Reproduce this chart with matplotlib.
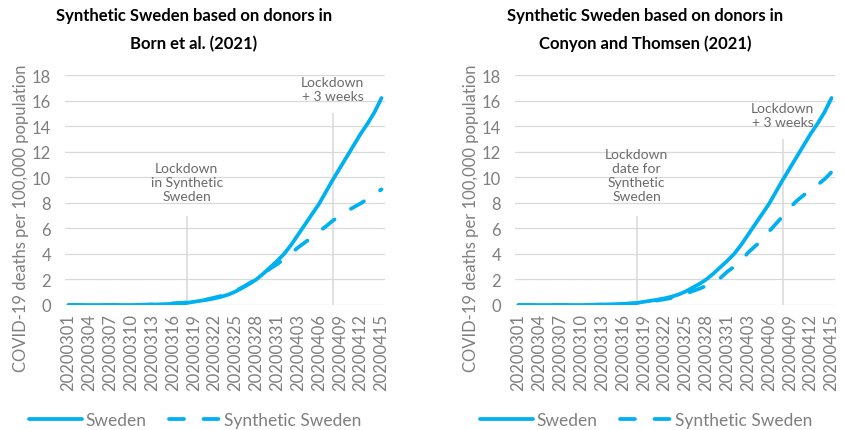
import matplotlib
matplotlib.use("Agg")
import matplotlib.pyplot as plt
from matplotlib.lines import Line2D
import datetime as dt

plt.rcParams['font.family'] = ['Lato', 'DejaVu Sans']

# ---------------- data ----------------
start = dt.date(2020, 3, 1)
dates = [(start + dt.timedelta(days=i)).strftime('%Y%m%d') for i in range(46)]

sweden = [0, 0, 0, 0, 0, 0, 0, 0, 0, 0, 0.01,
          0.02, 0.03, 0.05, 0.07, 0.09, 0.12, 0.16, 0.25, 0.33, 0.42,
          0.52, 0.65, 0.82, 1.05, 1.35, 1.65, 2.0, 2.45, 2.95, 3.45,
          4.0, 4.7, 5.5, 6.3, 7.1, 7.9, 8.85, 9.8, 10.7, 11.6,
          12.5, 13.4, 14.2, 15.1, 16.2]

synth_born = [0, 0, 0, 0, 0, 0, 0, 0, 0, 0.01, 0.01,
              0.02, 0.04, 0.07, 0.10, 0.13, 0.16, 0.20, 0.24, 0.33, 0.45,
              0.58, 0.72, 0.90, 1.12, 1.38, 1.70, 2.05, 2.45, 2.85, 3.2,
              3.6, 4.05, 4.5, 4.9, 5.3, 5.75, 6.15, 6.6, 7.0, 7.35,
              7.65, 7.95, 8.3, 8.65, 9.05]

synth_conyon = [0, 0, 0, 0, 0, 0, 0, 0, 0, 0.01, 0.01,
                0.02, 0.03, 0.04, 0.05, 0.07, 0.10, 0.13, 0.20, 0.28, 0.36,
                0.45, 0.55, 0.70, 0.88, 1.08, 1.28, 1.50, 1.72, 2.1, 2.6,
                3.0, 3.45, 4.1, 4.6, 5.05, 5.75, 6.35, 6.95, 7.6, 8.15,
                8.6, 9.0, 9.4, 9.85, 10.4]

lockdown_date = '20200318'
lockdown_3w_date = '20200408'
left_marker_heights = [7, 15]
right_marker_heights = [7, 13]

titles = ["Synthetic Sweden based on donors in\nBorn et al. (2021)",
          "Synthetic Sweden based on donors in\nConyon and Thomsen (2021)"]
left_notes = ["Lockdown\nin Synthetic\nSweden", "Lockdown\n+ 3 weeks"]
right_notes = ["Lockdown\ndate for\nSynthetic\nSweden", "Lockdown\n+ 3 weeks"]
ylabel = "COVID-19 deaths per 100,000 population"

# ---------------- style ----------------
BLUE = '#00b0f0'
GRID = '#d9d9d9'
TXT = '#7f7f7f'
NOTE = '#6a6a6a'
DASH = (0, (4.0, 5.2))

fig = plt.figure(figsize=(8.45, 4.31), dpi=100)

axes_pos = [[65/845, 1-306/431, 320/845, 230/431],
            [515/845, 1-306/431, 320/845, 230/431]]
title_x = [194/845, 645/845]
legend_x = [24/845, 475/845]

x = list(range(len(dates)))
i_lock = dates.index(lockdown_date)
i_3w = dates.index(lockdown_3w_date)

configs = [
    (synth_born, left_marker_heights, left_notes, [9.6, 16.9]),
    (synth_conyon, right_marker_heights, right_notes, [10.2, 14.85]),
]

for k, (synth, mh, notes, note_y) in enumerate(configs):
    ax = fig.add_axes(axes_pos[k])
    ax.set_xlim(-0.5, len(dates) - 0.5)
    ax.set_ylim(0, 18)
    ax.set_yticks(range(0, 19, 2))
    ax.yaxis.grid(True, color=GRID, linewidth=0.9)
    ax.set_axisbelow(True)
    for s in ax.spines.values():
        s.set_visible(False)
    ax.tick_params(axis='both', length=0, colors=TXT, labelsize=12)
    ax.tick_params(axis='y', pad=10)
    ax.tick_params(axis='x', pad=6)
    ax.set_xticks(x[::3])
    ax.set_xticklabels(dates[::3], rotation=90)

    ax.vlines([i_lock, i_3w], 0, mh, color=GRID, linewidth=1.1, zorder=1)

    ax.plot(x, sweden, color=BLUE, linewidth=2.7, solid_capstyle='round',
            solid_joinstyle='round', zorder=3)
    ax.plot(x, synth, color=BLUE, linewidth=2.7, linestyle=DASH,
            dash_capstyle='round', zorder=3)

    ax.text(i_lock, note_y[0], notes[0], ha='center', va='center',
            fontsize=10, color=NOTE, linespacing=1.2)
    ax.text(i_3w, note_y[1], notes[1], ha='center', va='center',
            fontsize=10, color=NOTE, linespacing=1.2)

    ax.set_ylabel(ylabel, color=TXT, fontsize=12, labelpad=5)
    ax.yaxis.set_label_coords(-0.111, 0.383)

    fig.text(title_x[k], 1 - 30/431, titles[k], ha='center', va='center',
             fontsize=12, fontweight='bold', color='black', linespacing=1.85)

    handles = [Line2D([], [], color=BLUE, linewidth=2.7, solid_capstyle='round'),
               Line2D([], [], color=BLUE, linewidth=2.7, linestyle=DASH,
                      dash_capstyle='round')]
    fig.legend(handles, ['Sweden', 'Synthetic Sweden'], loc='center left',
               bbox_to_anchor=(legend_x[k] - 0.012, 1 - 421/431), ncol=2,
               frameon=False, fontsize=12.5, labelcolor=TXT, handlelength=3.0,
               handletextpad=0.2, columnspacing=1.3)

fig.savefig('out.png', dpi=100)
